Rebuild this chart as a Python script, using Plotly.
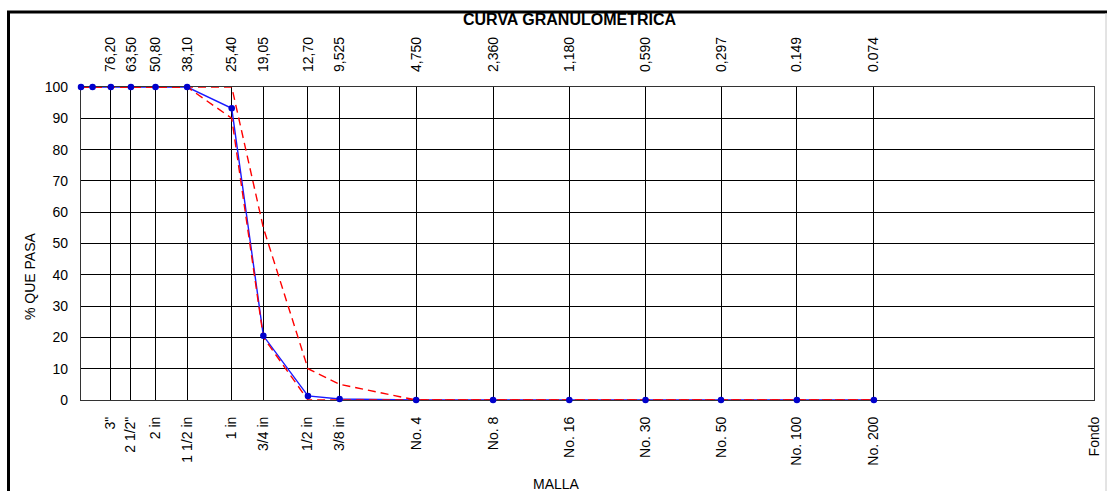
import plotly.graph_objects as go

# ---- data ----
sizes_mm = [100, 90, 76.2, 63.5, 50.8, 38.1, 25.4, 19.05, 12.7, 9.525, 4.75, 2.36, 1.18, 0.59, 0.297, 0.149, 0.074]
sample_pass = [100, 100, 100, 100, 100, 100, 93.2, 20.5, 1.3, 0.3, 0, 0, 0, 0, 0, 0, 0]
upper_limit = [100, 100, 100, 100, 100, 100, 100, 55, 10, 5, 0, 0, 0, 0, 0, 0, 0]
lower_limit = [100, 100, 100, 100, 100, 100, 90, 20, 0, 0, 0, 0, 0, 0, 0, 0, 0]

sieve_vals = [76.2, 63.5, 50.8, 38.1, 25.4, 19.05, 12.7, 9.525, 4.75, 2.36, 1.18, 0.59, 0.297, 0.149, 0.074, 0.01]
sieve_names = ['3"', '2 1/2"', '2 in', '1 1/2 in', '1 in', '3/4 in', '1/2 in', '3/8 in', 'No. 4', 'No. 8',
               'No. 16', 'No. 30', 'No. 50', 'No. 100', 'No. 200', 'Fondo']
top_vals = [76.2, 63.5, 50.8, 38.1, 25.4, 19.05, 12.7, 9.525, 4.75, 2.36, 1.18, 0.59, 0.297, 0.149, 0.074]
top_labels = ['76,20', '63,50', '50,80', '38,10', '25,40', '19,05', '12,70', '9,525', '4,750', '2,360',
              '1,180', '0,590', '0,297', '0.149', '0.074']
y_ticks = list(range(0, 101, 10))

FONT = "Arial, Liberation Sans, sans-serif"
W, H = 1107, 491
L, R, T, B = 81, 13, 87, 91
pw, ph = W - L - R, H - T - B


def px(x):
    """screen x -> paper"""
    return (x - L) / pw


def py(y):
    """screen y -> paper"""
    return (H - B - y) / ph


fig = go.Figure()
fig.add_trace(go.Scatter(x=sizes_mm, y=sample_pass, mode='lines',
                         line=dict(color='#1a1aff', width=1.4), xaxis='x', yaxis='y',
                         showlegend=False, hoverinfo='skip'))
fig.add_trace(go.Scatter(x=sizes_mm, y=upper_limit, mode='lines',
                         line=dict(color='#ff0000', width=1.4, dash='8px,5px'), xaxis='x2', yaxis='y',
                         showlegend=False))
fig.add_trace(go.Scatter(x=sizes_mm, y=lower_limit, mode='lines',
                         line=dict(color='#ff0000', width=1.4, dash='8px,5px'), xaxis='x2', yaxis='y',
                         showlegend=False))
fig.add_trace(go.Scatter(x=sizes_mm, y=sample_pass, mode='markers',
                         marker=dict(color='#0000cc', size=6.5), xaxis='x2', yaxis='y',
                         showlegend=False, cliponaxis=False))

fig.update_layout(
    width=W, height=H,
    margin=dict(l=L, r=R, t=T, b=B, pad=0, autoexpand=False),
    paper_bgcolor='white', plot_bgcolor='white',
    font=dict(family=FONT, size=14, color='black'),
    xaxis=dict(type='log', range=[2, -2], tickmode='array', tickvals=sieve_vals, ticktext=sieve_names,
               tickangle=-90, ticks='', showgrid=True, gridcolor='black', gridwidth=1,
               showline=True, linecolor='#333333', linewidth=1.2, mirror=True, zeroline=False,
               layer='below traces', automargin=False, ticklabelstandoff=10,
               tickfont=dict(size=14, family=FONT)),
    xaxis2=dict(type='log', range=[2, -2], overlaying='x', side='top', tickmode='array',
                tickvals=top_vals, ticktext=top_labels, tickangle=-90, ticks='', showgrid=False,
                showline=False, zeroline=False, automargin=False, ticklabelstandoff=14,
                tickfont=dict(size=14, family=FONT)),
    yaxis=dict(range=[0, 100], tickmode='array', tickvals=y_ticks, ticks='', showgrid=True,
               gridcolor='black', gridwidth=1, zeroline=False, showline=True, linecolor='#333333',
               linewidth=1.2, mirror=True, layer='below traces', automargin=False,
               tickfont=dict(size=14, family=FONT), ticklabelstandoff=9),
    showlegend=False,
)

fig.add_annotation(text='<b>CURVA GRANULOMETRICA</b>', x=px(569), y=py(19), xref='paper', yref='paper',
                   showarrow=False, font=dict(size=16, family=FONT), xanchor='center', yanchor='middle')
fig.add_annotation(text='% QUE PASA', x=px(30), y=py(276), xref='paper', yref='paper', textangle=-90,
                   showarrow=False, font=dict(size=14, family=FONT), xanchor='center', yanchor='middle')
fig.add_annotation(text='MALLA', x=px(556), y=py(484), xref='paper', yref='paper',
                   showarrow=False, font=dict(size=14, family=FONT), xanchor='center', yanchor='middle')

# outer frame
fig.add_shape(type='line', xref='paper', yref='paper', x0=px(7), x1=px(1115), y0=py(12), y1=py(12),
              line=dict(color='black', width=3))
fig.add_shape(type='line', xref='paper', yref='paper', x0=px(8.5), x1=px(8.5), y0=py(11), y1=py(500),
              line=dict(color='black', width=3))
fig.add_shape(type='line', xref='paper', yref='paper', x0=px(1106), x1=px(1106), y0=py(13), y1=py(500),
              line=dict(color='#c8c8c8', width=1))

fig.write_html(
    "out.html",
    config={"displayModeBar": False},
    post_script="document.body.style.margin='0';document.documentElement.style.overflow='hidden';",
)
